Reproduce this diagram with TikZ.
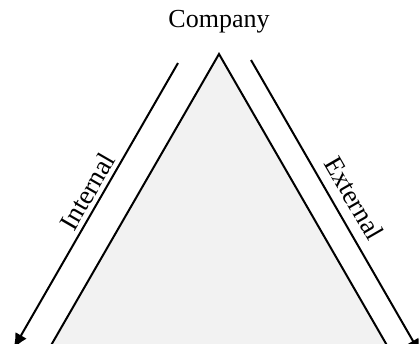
\documentclass[tikz,border=0pt]{standalone}
\usepackage{fontspec}
\setmainfont{Liberation Serif}
\usetikzlibrary{arrows.meta,calc}
\definecolor{trifill}{RGB}{242,242,242}
\begin{document}
\begin{tikzpicture}[x=1bp,y=-1bp,
    edge/.style={line width=2bp},
    flow/.style={line width=2bp,-{Latex[length=15bp,width=13bp]}},
    lbl/.style={font=\fontsize{26bp}{30bp}\selectfont, inner sep=0pt},
    sidelbl/.style={font=\fontsize{27bp}{31bp}\selectfont, inner sep=0pt}]
  \useasboundingbox (0,0) rectangle (419,344);
  \clip (0,0) rectangle (419,344);
  % triangle corners (the base lies below the visible area)
  \coordinate (apex) at (219,54);
  \coordinate (bl) at (19.5,400);
  \coordinate (br) at (418.5,400);
  \fill[trifill] (bl) -- (apex) -- (br) -- cycle;
  \draw[edge, line join=miter] (bl) -- (apex) -- (br);
  \node[lbl] (company) at (219,22) {Company};
  % flow arrows along the sides
  \coordinate (in0) at (178,63);
  \coordinate (in1) at (13.5,348.5);
  \coordinate (ex0) at (251,60);
  \coordinate (ex1) at (420.5,354);
  \draw[flow] (in0) -- (in1);
  \draw[flow] (ex0) -- (ex1);
  \node[sidelbl, rotate=60] (internal) at (87,191.5) {Internal};
  \node[sidelbl, rotate=-60] (external) at (354,198) {External};
\end{tikzpicture}
\end{document}
